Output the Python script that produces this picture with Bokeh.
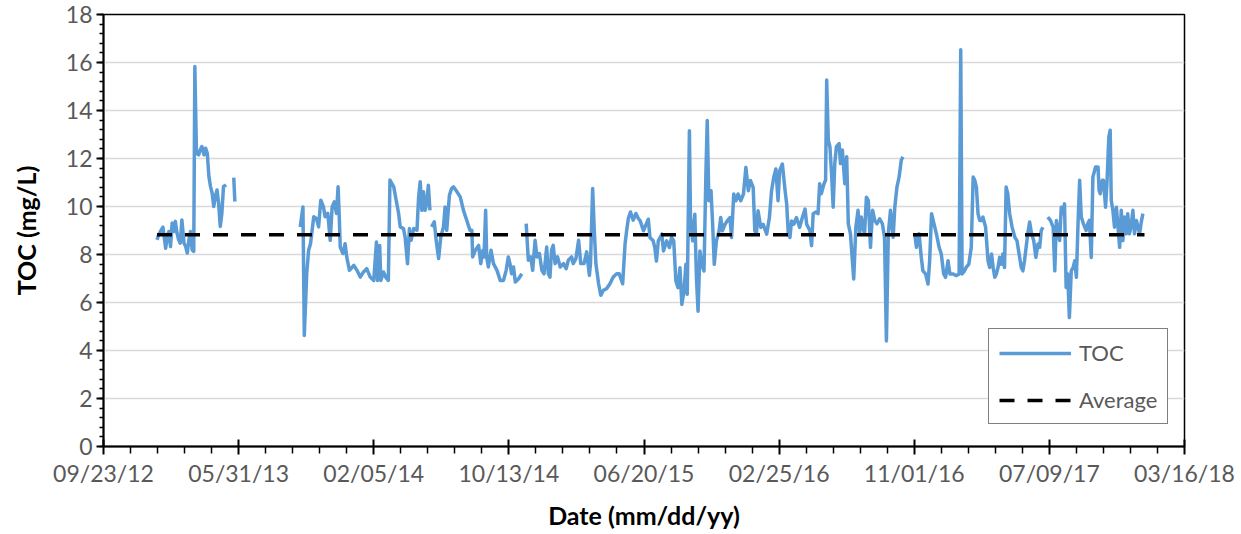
import numpy as np
import pandas as pd
from bokeh.plotting import figure
from bokeh.models import (Range1d, FixedTicker, SingleIntervalTicker,
                          DatetimeTickFormatter, Legend, LegendItem)
from bokeh.embed import file_html
from bokeh.resources import INLINE

# ---------------- data (days counted from 09/23/2012) ----------------
start_date = "2012-09-23"
end_date = "2018-03-16"

seg1_day = [99, 102, 107, 110, 113, 115, 118, 121, 124, 127, 130, 133, 136, 139, 142, 145, 149, 152, 155, 158,
            161, 164, 167, 169, 172, 176, 179, 182, 186, 189, 192, 195, 198, 201, 204, 207, 210, 213, 216, 219, 222, 227]
seg1_toc = [8.61, 8.82, 9.03, 9.14, 8.61, 8.26, 8.75, 8.96, 8.33, 9.31, 8.96, 9.38, 8.89, 8.61, 8.47, 9.44, 8.47, 8.33, 8.06, 8.61,
            8.96, 8.19, 8.13, 15.83, 12.22, 12.15, 12.36, 12.5, 12.15, 12.43, 12.22, 11.25, 10.83, 10.56, 10.0, 10.42, 10.69, 10.14, 9.17, 9.72, 10.83, 10.9]

seg2_day = [241, 243]
seg2_toc = [11.2, 10.21]

seg3_day = [364, 369, 371.5, 376, 379.5, 383, 386, 389, 394, 398, 402, 407, 410, 415, 419.5, 423, 427, 431, 434, 436,
            438, 443, 447, 450, 455, 463, 469, 475, 481, 487, 493.5, 500, 505, 507, 511, 513, 518, 522, 527, 530,
            537, 541.5, 546, 549, 555, 558, 562.5, 566, 569, 574, 580, 583, 586, 589, 592, 595, 598, 601, 604]
seg3_toc = [9.15, 9.98, 4.63, 7.2, 8.18, 8.45, 9.01, 9.57, 9.5, 9.15, 10.26, 9.98, 9.57, 9.71, 8.59, 9.98, 10.19, 9.71, 10.82, 9.71,
            8.31, 8.04, 8.45, 7.9, 7.34, 7.55, 7.34, 7.06, 7.27, 7.41, 7.06, 6.92, 8.52, 6.92, 8.38, 6.92, 7.27, 7.06, 6.92, 11.1,
            10.82, 10.26, 9.71, 9.15, 9.08, 8.73, 7.62, 9.08, 8.59, 9.08, 9.01, 10.4, 11.03, 9.84, 10.61, 9.84, 10.12, 10.89, 9.84]

seg4_day = [607, 612, 615.5, 620, 624, 629, 632, 635, 640, 644, 647.5, 654, 660, 666, 672, 678, 681.5, 683, 688, 694,
            698, 702, 704, 707, 709, 712, 717, 721.5, 728, 734, 740, 745, 749, 752, 755, 758.5, 762, 768, 774]
seg4_toc = [9.15, 9.36, 8.59, 7.83, 8.73, 9.15, 9.98, 9.01, 10.47, 10.75, 10.82, 10.61, 10.4, 9.84, 9.43, 9.01, 9.01, 7.9, 8.18, 8.38,
            7.62, 8.18, 7.9, 9.84, 7.9, 7.48, 8.18, 7.62, 7.34, 6.92, 6.92, 7.34, 7.9, 7.62, 7.2, 7.48, 6.85, 6.99, 7.2]

seg5a_day = [782, 786, 790.5, 794, 798.5, 802, 806.5, 811, 815, 820, 823, 826, 829, 832, 835.5, 840, 845, 851, 856, 860,
             866, 869, 874, 879, 883, 889, 894, 899, 901, 905, 908, 911, 916, 920, 925, 931, 937, 943, 949.5, 954,
             960.5, 965, 968, 971, 975, 980, 985, 989.5]
seg5a_toc = [9.29, 7.76, 7.9, 7.34, 8.59, 7.9, 8.04, 7.34, 7.2, 8.31, 7.2, 7.06, 8.18, 8.38, 7.62, 7.9, 7.48, 7.62, 7.41, 7.76,
             7.9, 7.62, 7.83, 8.59, 7.62, 7.62, 8.11, 7.13, 7.62, 10.75, 9.01, 7.62, 6.78, 6.3, 6.51, 6.58, 6.78, 7.06, 7.2, 7.2,
             6.78, 8.45, 9.01, 9.5, 9.77, 9.43, 9.71, 9.5]

seg5b_day = [993, 999, 1004, 1008, 1011, 1017, 1020, 1023, 1026.5, 1033, 1036, 1042, 1047, 1051, 1055, 1059, 1063, 1066.5, 1070, 1074,
             1077.5, 1080, 1084, 1086, 1090, 1094, 1097, 1100, 1103.5, 1107, 1111, 1114.5, 1117, 1120, 1124, 1127, 1130, 1134, 1139, 1142,
             1145, 1150, 1154, 1159, 1162, 1166, 1170, 1174, 1179, 1184, 1188.5, 1193, 1197, 1202, 1205, 1208, 1211, 1216, 1220.5, 1227,
             1232, 1236, 1240, 1244, 1248, 1251, 1256, 1261, 1264, 1267, 1270, 1273, 1277, 1282, 1288, 1293, 1298, 1301, 1307]
seg5b_toc = [9.4, 8.99, 9.26, 9.47, 8.71, 8.57, 8.29, 7.73, 8.57, 8.85, 8.15, 8.57, 8.29, 8.71, 8.57, 6.9, 6.62, 7.45, 5.92, 6.48,
             7.59, 6.34, 13.16, 9.54, 8.57, 9.68, 7.04, 5.64, 8.15, 7.59, 7.31, 11.35, 13.58, 10.24, 10.66, 9.26, 7.59, 8.57, 8.99, 9.54,
             8.99, 9.26, 9.4, 9.54, 8.71, 10.52, 10.24, 10.52, 10.24, 10.52, 11.63, 10.66, 11.08, 10.8, 8.99, 8.85, 9.82, 9.13, 9.26, 8.85,
             9.54, 10.66, 11.21, 11.56, 10.24, 11.49, 11.77, 10.66, 10.1, 8.85, 8.71, 9.4, 9.26, 9.54, 9.13, 9.54, 9.89, 9.26, 8.99]

seg5c_day = [1310, 1313, 1318, 1322, 1325, 1328, 1333, 1336, 1338, 1341, 1344, 1347, 1350, 1353, 1356, 1361, 1363.5, 1367, 1371.5, 1375,
             1378, 1382, 1385.5, 1388, 1392, 1396, 1399, 1402, 1405, 1408, 1411.5, 1415, 1419, 1423, 1427, 1431, 1436, 1441, 1445, 1448.5,
             1452, 1456, 1461, 1464, 1468, 1472, 1476, 1479]
seg5c_toc = [8.37, 9.7, 9.77, 9.7, 10.95, 10.53, 10.95, 11.09, 15.27, 12.76, 12.49, 11.37, 9.97, 11.79, 12.49, 12.62, 11.79, 12.35, 10.95, 12.07,
             9.28, 8.86, 7.74, 6.98, 9.14, 9.84, 8.86, 9.56, 9.14, 8.86, 10.39, 10.25, 8.3, 9.84, 9.42, 9.28, 9.49, 9.28, 8.72, 4.4,
             8.86, 9.84, 8.72, 9.97, 10.81, 11.23, 11.93, 12.07]

seg6_day = [1501, 1504, 1509, 1513, 1516, 1521, 1525.5, 1528.5, 1532, 1535, 1538, 1541, 1546, 1550, 1554.5, 1558, 1562.5, 1566, 1572, 1578,
            1583, 1586, 1588.5, 1593, 1596, 1601, 1605.5, 1609, 1612, 1615, 1618, 1621, 1624, 1627, 1632, 1636.5, 1639.5, 1643, 1646, 1649,
            1652, 1655, 1658, 1661, 1664, 1667, 1670, 1673, 1676.5, 1681, 1686, 1690, 1694, 1698, 1701, 1704, 1707, 1710, 1713.5, 1717,
            1721, 1725, 1729, 1732, 1735, 1738]
seg6_toc = [8.86, 8.3, 8.86, 7.88, 7.32, 7.19, 6.77, 7.74, 9.7, 9.42, 9.14, 8.86, 8.3, 8.02, 7.19, 7.05, 7.74, 7.19, 7.19, 7.12,
            7.19, 16.53, 7.19, 7.32, 7.46, 7.6, 8.3, 11.23, 11.09, 10.81, 9.7, 9.42, 9.42, 9.56, 9.14, 7.74, 7.46, 8.02, 7.46, 7.05,
            7.19, 7.46, 7.88, 7.6, 8.02, 7.46, 10.81, 10.53, 9.7, 9.14, 8.72, 8.58, 8.02, 7.46, 7.32, 7.74, 8.3, 8.86, 9.35, 8.86,
            8.58, 7.88, 8.44, 8.3, 9.0, 9.14]

seg7_day = [1747, 1752, 1757, 1760, 1763, 1766, 1769, 1772, 1775, 1778, 1781, 1784, 1787, 1790.5, 1794, 1797, 1800, 1803, 1806, 1809,
            1813, 1818, 1821, 1824, 1827.5, 1830.5, 1835.5, 1840, 1842, 1844, 1848, 1850, 1854, 1856.5, 1860, 1862.5, 1864.5, 1867.5, 1870.5, 1874,
            1877, 1880, 1883, 1886, 1889, 1892, 1895, 1898, 1901, 1904.5, 1907.5, 1911, 1914, 1917, 1920, 1923]
seg7_toc = [9.56, 9.42, 9.14, 7.32, 9.42, 9.0, 8.58, 9.97, 9.7, 10.11, 6.63, 7.19, 5.37, 7.32, 7.46, 7.74, 7.05, 9.28, 11.09, 9.56,
            9.28, 9.0, 9.28, 9.42, 7.88, 11.23, 11.65, 11.65, 10.67, 10.53, 11.09, 11.09, 9.97, 10.95, 12.9, 13.18, 10.25, 9.84, 9.14, 9.97,
            9.14, 8.3, 9.84, 8.58, 9.56, 8.86, 9.7, 8.86, 9.14, 9.84, 8.86, 9.42, 9.14, 8.86, 9.35, 9.7]

avg_day = [99, 1926]
avg_toc = 8.82

tick_dates = ["2012-09-23", "2013-05-31", "2014-02-05", "2014-10-13", "2015-06-20",
              "2016-02-25", "2016-11-01", "2017-07-09", "2018-03-16"]
y_ticks_step = 2

# ---------------- build series (NaN separates gaps) ----------------
segments = [
    (seg1_day, seg1_toc),
    (seg2_day, seg2_toc),
    (seg3_day, seg3_toc),
    (seg4_day, seg4_toc),
    (seg5a_day + seg5b_day + seg5c_day, seg5a_toc + seg5b_toc + seg5c_toc),
    (seg6_day, seg6_toc),
    (seg7_day, seg7_toc),
]
all_days, all_toc = [], []
for d, t in segments:
    if all_days:
        all_days.append(d[0])
        all_toc.append(np.nan)
    all_days += list(d)
    all_toc += list(t)

t0 = pd.Timestamp(start_date)
x_dates = t0 + pd.to_timedelta(np.array(all_days, dtype=float), unit="D")
avg_dates = t0 + pd.to_timedelta(np.array(avg_day, dtype=float), unit="D")

# ---------------- figure ----------------
FONT = "Lato"
p = figure(width=1241, height=534, x_axis_type="datetime",
           x_range=Range1d(pd.Timestamp(start_date), pd.Timestamp(end_date)),
           y_range=Range1d(0, 18),
           output_backend="svg", toolbar_location=None,
           min_border_left=103, min_border_right=57, min_border_top=14, min_border_bottom=88)
p.background_fill_color = "white"
p.border_fill_color = "white"
p.outline_line_color = "black"
p.outline_line_width = 1.5

r_toc = p.line(x_dates, np.array(all_toc), color="#5B9BD5", line_width=3.5, line_join="round")
r_avg = p.line(avg_dates, [avg_toc, avg_toc], color="black", line_width=3.5, line_dash="15 13")

# x axis ticks
ms = [pd.Timestamp(t).value / 1e6 for t in tick_dates]
day_ms = 86400000.0
minor = []
for m in ms[:-1]:
    for k in range(1, 5):
        minor.append(m + k * 50 * day_ms)
p.xaxis.ticker = FixedTicker(ticks=ms, minor_ticks=minor)
fmt = "%m/%d/%y"
p.xaxis.formatter = DatetimeTickFormatter(microseconds=fmt, milliseconds=fmt, seconds=fmt, minsec=fmt,
                                          minutes=fmt, hourmin=fmt, hours=fmt, days=fmt, months=fmt, years=fmt)
p.yaxis.ticker = SingleIntervalTicker(interval=y_ticks_step, num_minor_ticks=5)

for ax in (p.xaxis[0], p.yaxis[0]):
    ax.axis_line_color = "black"
    ax.axis_line_width = 2
    ax.major_tick_line_color = "black"
    ax.major_tick_line_width = 2
    ax.minor_tick_line_color = "black"
    ax.minor_tick_line_width = 1.5
    ax.major_label_text_font = FONT
    ax.major_label_text_font_size = "23px"
    ax.major_label_text_color = "#595959"
    ax.axis_label_text_font = FONT
    ax.axis_label_text_font_size = "25px"
    ax.axis_label_text_font_style = "bold"
    ax.axis_label_text_color = "black"

p.xaxis.axis_label = "Date (mm/dd/yy)"
p.yaxis.axis_label = "TOC (mg/L)"
p.xaxis.major_tick_in = 7
p.xaxis.major_tick_out = 8
p.xaxis.minor_tick_in = 0
p.xaxis.minor_tick_out = 7
p.xaxis.major_label_standoff = 4
p.xaxis.axis_label_standoff = 10
p.yaxis.major_tick_in = 0
p.yaxis.major_tick_out = 7
p.yaxis.minor_tick_in = 0
p.yaxis.minor_tick_out = 4
p.yaxis.major_label_standoff = 4
p.yaxis.axis_label_standoff = 22

p.xgrid.visible = False
p.ygrid.grid_line_color = "#d9d9d9"
p.ygrid.grid_line_width = 1.5

legend = Legend(items=[LegendItem(label="TOC", renderers=[r_toc]),
                       LegendItem(label="Average", renderers=[r_avg])],
                location=(885, 22))
legend.label_text_font = FONT
legend.label_text_font_size = "22px"
legend.label_text_color = "#595959"
legend.border_line_color = "black"
legend.border_line_width = 1.5
legend.background_fill_color = "white"
legend.background_fill_alpha = 1
legend.padding = 10
legend.spacing = 20
legend.margin = 0
legend.glyph_width = 72
legend.glyph_height = 24
legend.label_height = 24
legend.label_standoff = 8
p.add_layout(legend)

open("out.html", "w").write(file_html(p, INLINE))
